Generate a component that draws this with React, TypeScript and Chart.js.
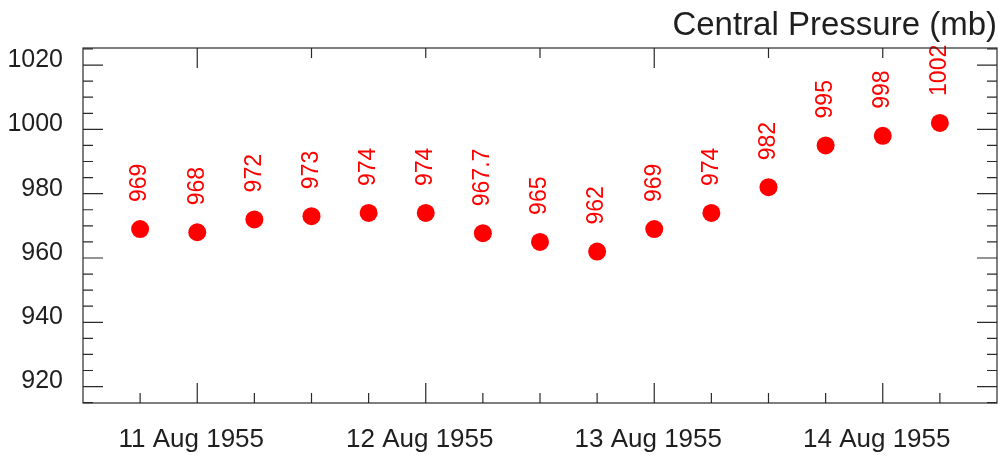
import React, { useEffect, useRef } from "react";
import { Chart, registerables } from "chart.js";

Chart.register(...registerables);

const times = [
  "10 Aug 18Z", "11 Aug 00Z", "11 Aug 06Z", "11 Aug 12Z", "11 Aug 18Z",
  "12 Aug 00Z", "12 Aug 06Z", "12 Aug 12Z", "12 Aug 18Z", "13 Aug 00Z",
  "13 Aug 06Z", "13 Aug 12Z", "13 Aug 18Z", "14 Aug 00Z", "14 Aug 06Z",
];
const pressure = [969, 968, 972, 973, 974, 974, 967.7, 965, 962, 969, 974, 982, 995, 998, 1002];
const dayLabels = ["11 Aug 1955", "12 Aug 1955", "13 Aug 1955", "14 Aug 1955"];
const dayIndex = [1, 5, 9, 13];
const yTicks = [920, 940, 960, 980, 1000, 1020];
const titleText = "Central Pressure (mb)";

const FONT = "'Liberation Sans', Arial, Helvetica, sans-serif";
const AXIS = "#2a2a2a";
const TEXT = "#1f1f1f";

const framePlugin = {
  id: "frame",
  afterDraw(chart: any) {
    const { ctx, chartArea: a, scales } = chart;
    const xs = scales.x;
    const ys = scales.y;
    ctx.save();
    ctx.strokeStyle = AXIS;
    ctx.lineWidth = 1.2;
    ctx.strokeRect(a.left, a.top, a.right - a.left, a.bottom - a.top);
    ctx.beginPath();
    for (let v = Math.ceil(ys.min / 5) * 5; v <= ys.max; v += 5) {
      const y = ys.getPixelForValue(v);
      const len = v % 20 === 0 ? 20 : 10;
      ctx.moveTo(a.left, y);
      ctx.lineTo(a.left + len, y);
      ctx.moveTo(a.right, y);
      ctx.lineTo(a.right - len, y);
    }
    for (let i = 0; i < times.length; i++) {
      const x = xs.getPixelForValue(i);
      const len = dayIndex.includes(i) ? 20 : 10;
      ctx.moveTo(x, a.bottom);
      ctx.lineTo(x, a.bottom - len);
    }
    for (let i = 1; i < times.length; i += 2) {
      const x = xs.getPixelForValue(i);
      const len = i === 1 || i === 9 ? 20 : 10;
      ctx.moveTo(x, a.top);
      ctx.lineTo(x, a.top + len);
    }
    ctx.stroke();
    ctx.restore();
  },
  afterDatasetsDraw(chart: any) {
    const { ctx } = chart;
    const meta = chart.getDatasetMeta(0);
    ctx.save();
    ctx.fillStyle = "#ff0000";
    ctx.font = `23px ${FONT}`;
    ctx.textAlign = "left";
    ctx.textBaseline = "middle";
    meta.data.forEach((pt: any, i: number) => {
      ctx.save();
      ctx.translate(pt.x, pt.y - 27);
      ctx.rotate(-Math.PI / 2);
      ctx.fillText(String(pressure[i]), 0, 0);
      ctx.restore();
    });
    ctx.restore();
  },
};

export default function App() {
  const ref = useRef<HTMLCanvasElement | null>(null);
  useEffect(() => {
    if (!ref.current) return;
    const chart = new Chart(ref.current, {
      type: "scatter",
      data: {
        labels: times,
        datasets: [
          {
            label: titleText,
            data: pressure.map((v, i) => ({ x: i, y: v })),
            backgroundColor: "#ff0000",
            borderWidth: 0,
            pointRadius: 9,
            pointHoverRadius: 9,
          },
        ],
      },
      options: {
        responsive: false,
        animation: false,
        layout: { autoPadding: false, padding: { left: 0, right: 1, top: 0, bottom: 0 } },
        plugins: {
          legend: { display: false },
          tooltip: { enabled: false },
          title: {
            display: true,
            text: titleText,
            align: "end",
            color: TEXT,
            font: { family: FONT, size: 33, weight: "normal" },
            padding: { top: 6, bottom: 2.4 },
          },
        },
        scales: {
          x: {
            type: "linear",
            min: -1,
            max: 15,
            grid: { display: false, drawTicks: false },
            border: { display: false },
            afterBuildTicks: (s: any) => {
              s.ticks = dayIndex.map((v) => ({ value: v }));
            },
            afterFit: (s: any) => {
              s.height = 55;
              s.paddingLeft = 0;
              s.paddingRight = 0;
            },
            ticks: {
              autoSkip: false,
              maxRotation: 0,
              padding: 21,
              labelOffset: -6,
              color: TEXT,
              font: { family: FONT, size: 26 },
              callback: (v: any) => {
                const k = dayIndex.indexOf(Number(v));
                return k >= 0 ? dayLabels[k] : "";
              },
            },
          },
          y: {
            type: "linear",
            min: 914.9,
            max: 1025.3,
            grid: { display: false, drawTicks: false },
            border: { display: false },
            afterBuildTicks: (s: any) => {
              s.ticks = yTicks.map((v) => ({ value: v }));
            },
            afterFit: (s: any) => {
              s.width = 83;
              s.paddingTop = 0;
              s.paddingBottom = 0;
            },
            ticks: {
              padding: 20,
              labelOffset: -5,
              color: TEXT,
              font: { family: FONT, size: 25 },
              callback: (v: any) => String(v),
            },
          },
        },
      },
      plugins: [framePlugin],
    });
    return () => chart.destroy();
  }, []);
  return (
    <div style={{ position: "fixed", left: 0, top: 0, width: 998, height: 458, background: "#fff" }}>
      <canvas ref={ref} width={998} height={458} style={{ display: "block" }} />
    </div>
  );
}
